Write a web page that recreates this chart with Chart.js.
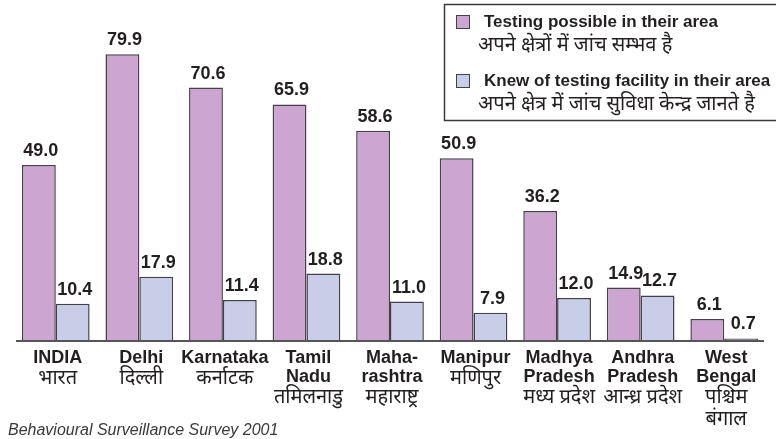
<!DOCTYPE html>
<html>
<head>
<meta charset="utf-8">
<script src="https://cdn.jsdelivr.net/npm/chart.js@4"></script>
<style>
  html, body { margin: 0; padding: 0; background: #fff; }
  #wrap { width: 776px; height: 439px; position: relative; }
</style>
</head>
<body>
<div id="wrap"><canvas id="testingChart"></canvas></div>
<script>
// Estados (inglês + hindi)
var statesEn = [
    ["INDIA"], ["Delhi"], ["Karnataka"], ["Tamil", "Nadu"], ["Maha-", "rashtra"],
    ["Manipur"], ["Madhya", "Pradesh"], ["Andhra", "Pradesh"], ["West", "Bengal"]
];
var statesHi = [
    ["भारत"], ["दिल्ली"], ["कर्नाटक"], ["तमिलनाडु"], ["महाराष्ट्र"],
    ["मणिपुर"], ["मध्य प्रदेश"], ["आन्ध्र प्रदेश"], ["पश्चिम", "बंगाल"]
];

// Percentuais por estado
var testingPossible = [49.0, 79.9, 70.6, 65.9, 58.6, 50.9, 36.2, 14.9, 6.1];
var knewFacility = [10.4, 17.9, 11.4, 18.8, 11.0, 7.9, 12.0, 12.7, 0.7];

var seriesEn = ["Testing possible in their area", "Knew of testing facility in their area"];
var seriesHi = ["अपने क्षेत्रों में जांच सम्भव है", "अपने क्षेत्र में जांच सुविधा केन्द्र जानते है"];

var sourceNote = "Behavioural Surveillance Survey 2001";

var purple = "#cca6d0";
var lilac = "#c8cee8";
var edge = "#444048";
var textDark = "#231f20";
var latinBold = "bold 18px 'Liberation Sans', Arial, sans-serif";
var hindiFont = "20px 'Noto Sans Devanagari', 'Lohit Devanagari', 'Noto Sans', sans-serif";

// Valores acima das barras
var valueLabels = {
    id: "valueLabels",
    afterDatasetsDraw: function (chart) {
        var ctx = chart.ctx;
        ctx.save();
        ctx.font = latinBold;
        ctx.fillStyle = textDark;
        ctx.textAlign = "center";
        ctx.textBaseline = "alphabetic";
        chart.data.datasets.forEach(function (ds, i) {
            chart.getDatasetMeta(i).data.forEach(function (bar, j) {
                ctx.fillText(ds.data[j].toFixed(1), bar.x + 2, bar.y - 9);
            });
        });
        ctx.restore();
    }
};

// Linha de base, rótulos dos estados, legenda e fonte
var extras = {
    id: "extras",
    afterDraw: function (chart) {
        var ctx = chart.ctx;
        var x = chart.scales.x;
        var y = chart.scales.y;
        var base = y.getPixelForValue(0);
        ctx.save();

        ctx.strokeStyle = "#58555a";
        ctx.lineWidth = 2;
        ctx.beginPath();
        ctx.moveTo(x.left + 2, base);
        ctx.lineTo(x.right - 2, base);
        ctx.stroke();

        ctx.fillStyle = textDark;
        ctx.textAlign = "center";
        ctx.textBaseline = "middle";
        statesEn.forEach(function (lines, i) {
            var cx = x.getPixelForValue(i) + 2;
            var ly = base + 17;
            ctx.font = latinBold;
            lines.forEach(function (t) {
                ctx.fillText(t, cx, ly);
                ly += 19;
            });
            ctx.font = hindiFont;
            ly += 3;
            statesHi[i].forEach(function (t) {
                ctx.fillText(t, cx, ly);
                ly += 22;
            });
        });

        // legenda
        ctx.strokeStyle = "#3a3a3a";
        ctx.lineWidth = 1.5;
        ctx.strokeRect(444.5, 4.5, 340, 116);
        var rows = [22, 81];
        chart.data.datasets.forEach(function (ds, i) {
            var ry = rows[i];
            ctx.fillStyle = ds.backgroundColor;
            ctx.fillRect(456, ry - 7, 14, 14);
            ctx.strokeStyle = edge;
            ctx.lineWidth = 1;
            ctx.strokeRect(456.5, ry - 6.5, 13, 13);
            ctx.fillStyle = textDark;
            ctx.textAlign = "left";
            ctx.font = "bold 17px 'Liberation Sans', Arial, sans-serif";
            ctx.fillText(seriesEn[i], 484, ry);
            ctx.font = hindiFont;
            ctx.fillText(seriesHi[i], 478, ry + 25);
        });

        ctx.font = "italic 16px 'Liberation Sans', Arial, sans-serif";
        ctx.fillStyle = "#3a3a3a";
        ctx.textAlign = "left";
        ctx.fillText(sourceNote, 8, 431);
        ctx.restore();
    }
};

function setupChart() {
    var el = document.getElementById("testingChart");
    new Chart(el, {
        type: "bar",
        data: {
            labels: statesEn.map(function (l) { return l.join(" "); }),
            datasets: [{
                label: seriesEn[0],
                data: testingPossible,
                backgroundColor: purple,
                borderColor: edge,
                borderWidth: 1.5,
                borderSkipped: "bottom"
            }, {
                label: seriesEn[1],
                data: knewFacility,
                backgroundColor: lilac,
                borderColor: edge,
                borderWidth: 1.5,
                borderSkipped: "bottom"
            }]
        },
        options: {
            responsive: true,
            maintainAspectRatio: false,
            animation: false,
            layout: { padding: { left: 14, right: 10, top: 0, bottom: 98 } },
            datasets: { bar: { categoryPercentage: 0.81, barPercentage: 1.0 } },
            scales: {
                x: { display: false },
                y: { display: false, min: 0, max: 95 }
            },
            plugins: {
                legend: { display: false },
                tooltip: { enabled: false }
            }
        },
        plugins: [valueLabels, extras]
    });
}

window.addEventListener("load", setupChart);
</script>
</body>
</html>
